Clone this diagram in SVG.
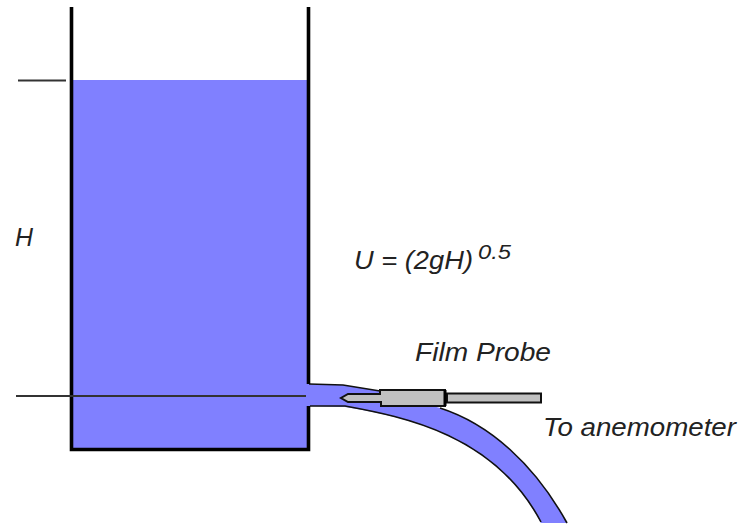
<svg xmlns="http://www.w3.org/2000/svg" width="740" height="526" viewBox="0 0 740 526">
<style>
.t{font-family:"Liberation Sans",Arial,sans-serif;font-style:italic;font-size:25px;fill:#222}
.w{fill:#8080ff;stroke:none}
.e{fill:none;stroke:#111;stroke-width:1.6}
.k{fill:none;stroke:#000;stroke-width:3.6}
.l{fill:none;stroke:#333;stroke-width:2}
.p{fill:#c0c0c0;stroke:#111;stroke-width:2}
</style>
<rect width="740" height="526" fill="#fff"/>
<g id="water">
<rect class="w" x="72" y="80" width="236" height="369"/>
<path class="w" d="M306 384L343 385L380 391L440 408C490 424 535 465 567 523L541 523C495 435 405 417 345 407L306 406Z"/>
</g>
<g id="jet-edges">
<path class="e" d="M309 384L343 385L380 391"/>
<path class="e" d="M310 406H345C405 417 495 435 541 522"/>
<path class="e" d="M440 408C490 424 535 465 567 523"/>
</g>
<g id="tank">
<path class="k" d="M71.500 7V449.500H308.500V406M308.500 384V7"/>
</g>
<g id="levels">
<path class="l" d="M18 80.500H66"/>
<path class="l" d="M16 396H306"/>
</g>
<g id="probe">
<rect class="p" x="447" y="393.500" width="94" height="9"/>
<path class="p" d="M380 394V390H445V406H381V402H348L341 398L348 394Z"/>
<path d="M445 390V406" stroke="#000" stroke-width="3" fill="none"/>
</g>
<g id="labels">
<text class="t" x="15" y="246" textLength="18" lengthAdjust="spacingAndGlyphs">H</text>
<text class="t" x="354" y="269" textLength="119" lengthAdjust="spacingAndGlyphs">U = (2gH)</text>
<text class="t" x="478" y="259" style="font-size:20px" textLength="33" lengthAdjust="spacingAndGlyphs">0.5</text>
<text class="t" x="415" y="361" textLength="136" lengthAdjust="spacingAndGlyphs">Film Probe</text>
<text class="t" x="543" y="436" textLength="193" lengthAdjust="spacingAndGlyphs">To anemometer</text>
</g>
</svg>
